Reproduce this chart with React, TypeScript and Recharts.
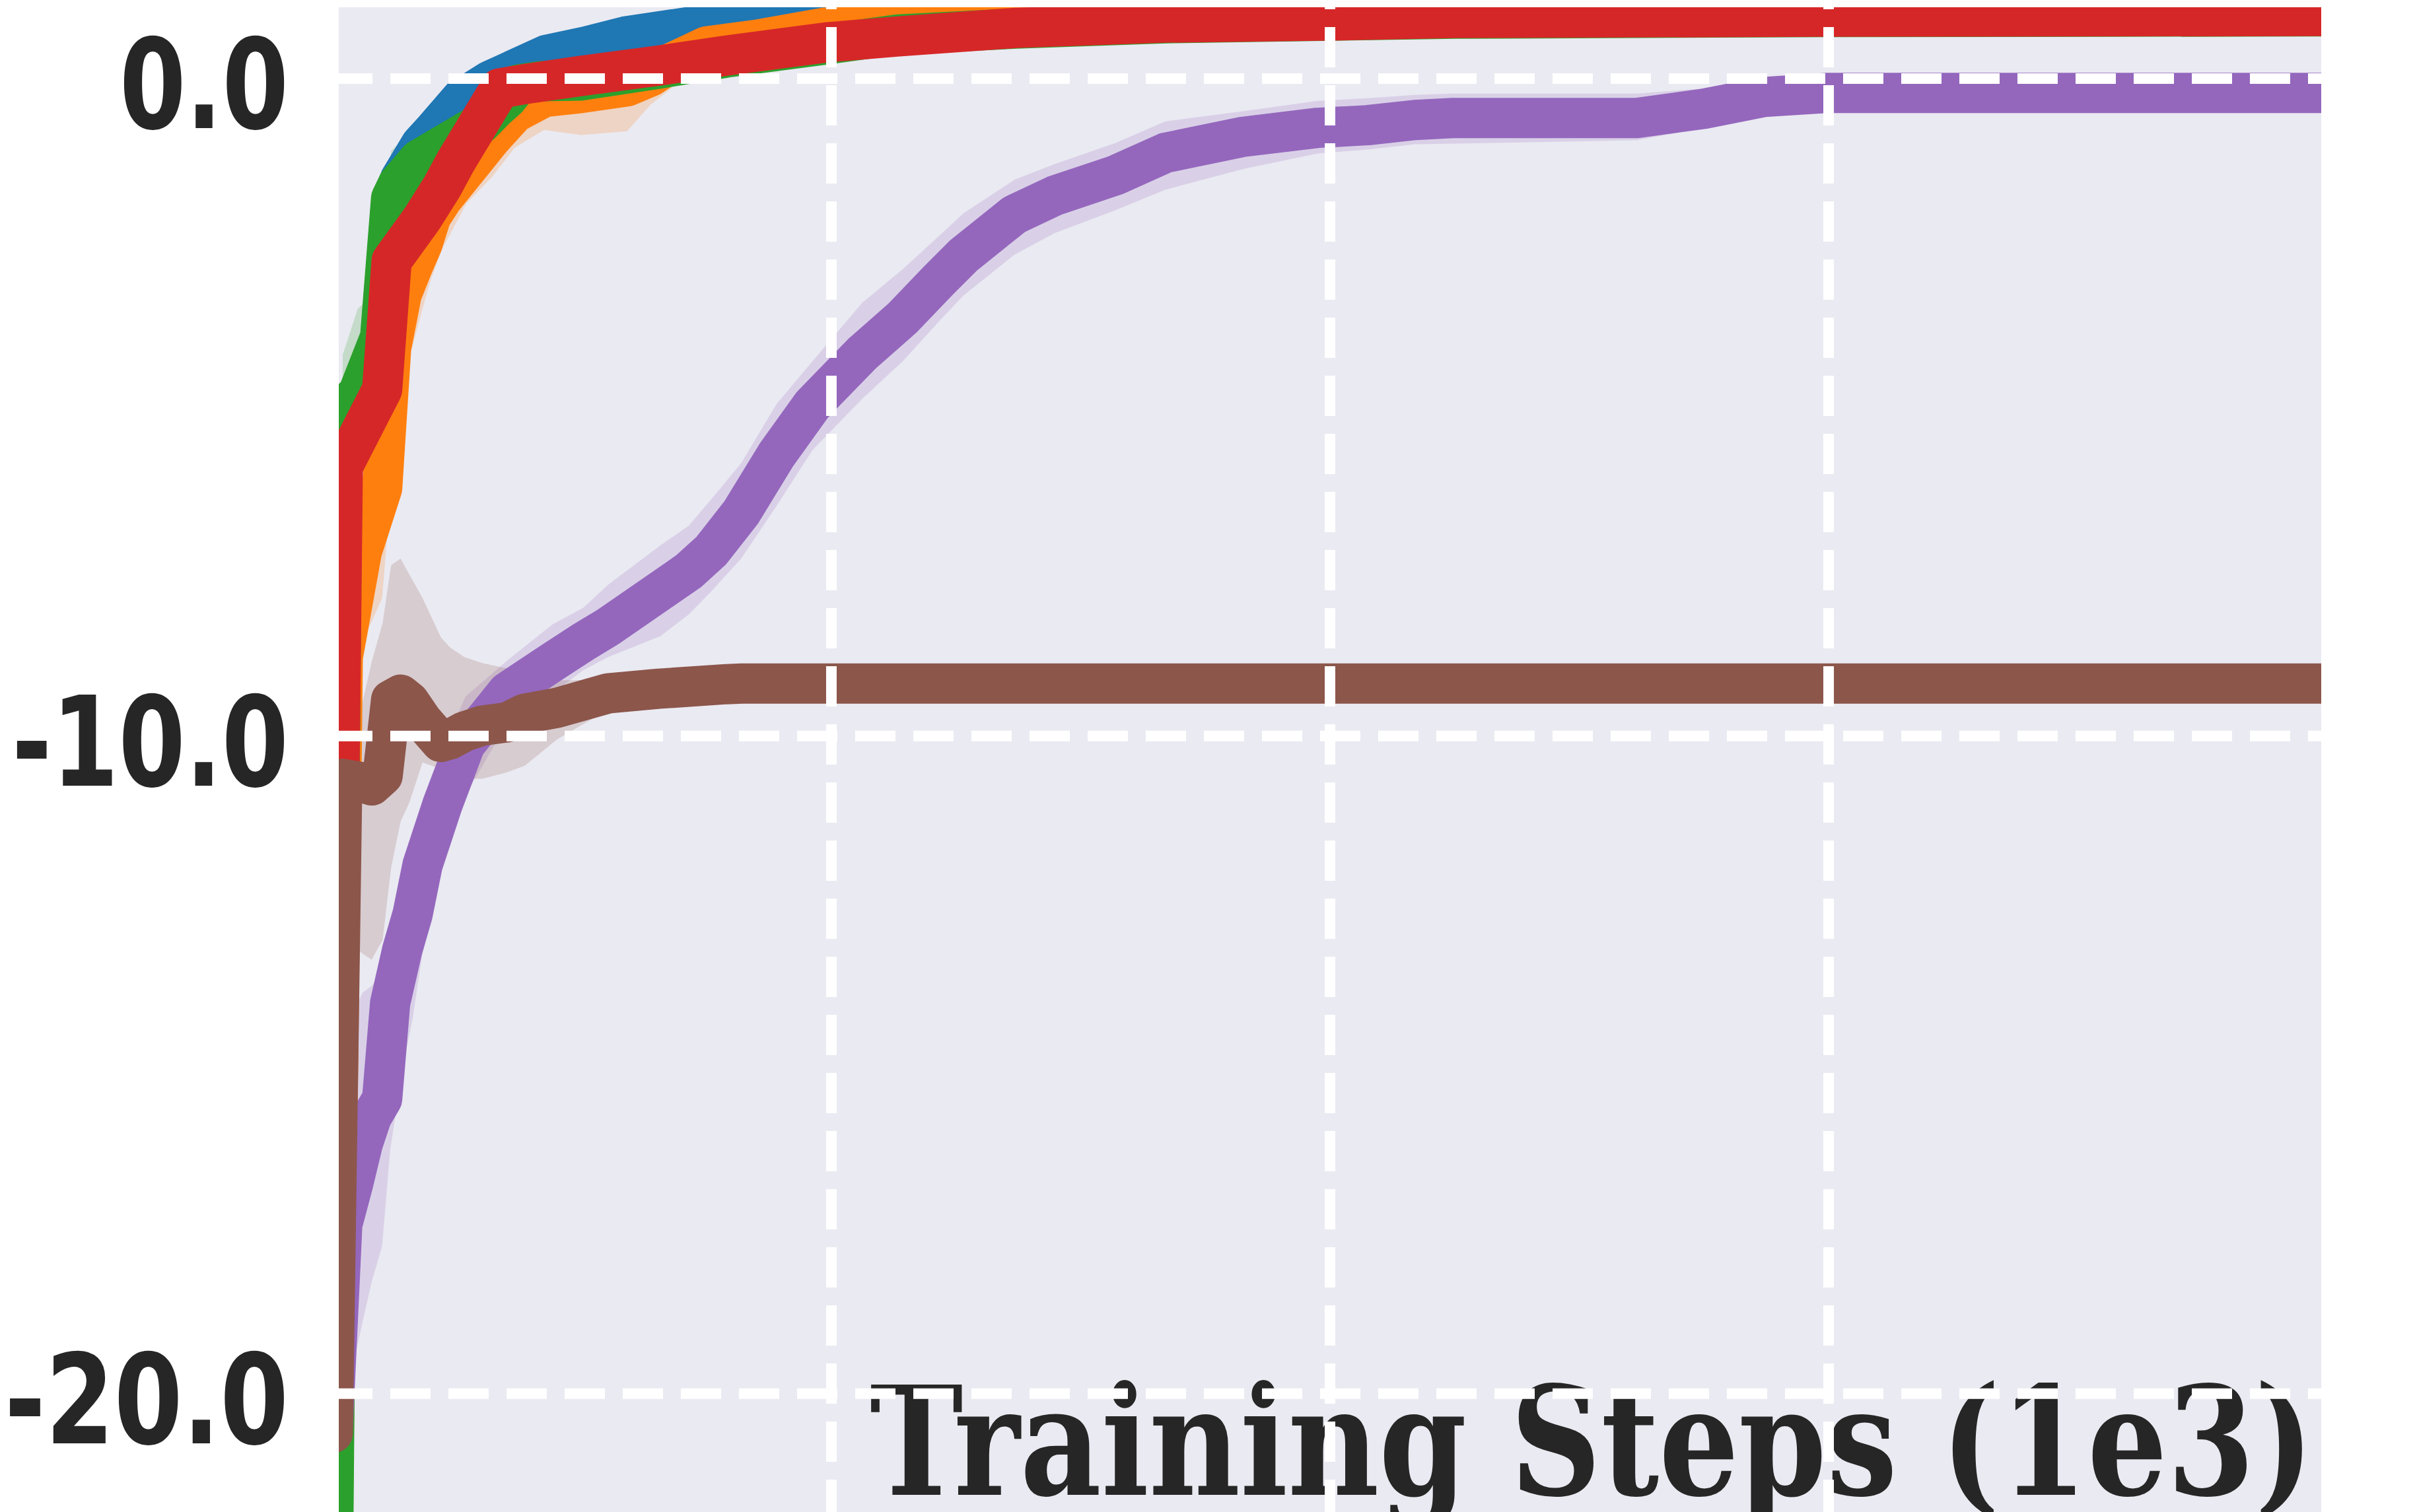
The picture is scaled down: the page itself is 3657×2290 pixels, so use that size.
import React from 'react';
import { ComposedChart, Line, Area, XAxis, YAxis, CartesianGrid, ReferenceLine, Customized } from 'recharts';

// x in 1e3 training steps, y = reward
const stepTicks = [1, 2, 3];
const rewardTicks = [-20, -10, 0];
const rewardLabels: Record<string, string> = { '0': '0.0', '-10': '-10.0', '-20': '-20.0' };
const labelWidths: Record<string, number> = { '0': 256, '-10': 419, '-20': 430 };

const blueSteps = [0, 0.02, 0.05, 0.095, 0.117, 0.135, 0.177, 0.2, 0.257, 0.316, 0.429, 0.51, 0.587, 0.72, 0.85, 1.0, 1.3, 2.0, 3.988];
const blueReward = [-21, -5.6, -5.0, -4.0, -1.9, -1.53, -1.0, -0.81, -0.31, -0.03, 0.36, 0.49, 0.64, 0.79, 0.95, 1.05, 1.15, 1.2, 1.25];

const orangeSteps = [0, 0.02, 0.058, 0.099, 0.117, 0.138, 0.159, 0.18, 0.197, 0.219, 0.268, 0.319, 0.365, 0.424, 0.498, 0.59, 0.637, 0.674, 0.75, 0.85, 0.984, 1.13, 1.4, 2.0, 3.988];
const orangeReward = [-22, -8.8, -7.2, -6.23, -4.1, -3.28, -2.88, -2.51, -2.1, -1.84, -1.38, -0.9, -0.52, -0.28, -0.22, -0.12, 0.03, 0.22, 0.49, 0.59, 0.77, 0.86, 0.95, 1.0, 1.02];
const orangeLow = [-23, -10.0, -8.6, -7.9, -6.2, -4.5, -4.1, -3.5, -3.05, -2.6, -1.9, -1.5, -1.05, -0.78, -0.86, -0.8, -0.4, -0.18, 0.3, 0.5, 0.72, 0.83, 0.93, 0.99, 1.01];
const orangeHigh = [-21, -8.0, -6.6, -5.6, -3.6, -2.9, -2.6, -2.2, -1.85, -1.6, -1.15, -0.7, -0.35, -0.15, -0.1, 0.0, 0.2, 0.4, 0.6, 0.68, 0.82, 0.89, 0.97, 1.01, 1.03];

const greenSteps = [0, 0.02, 0.05, 0.095, 0.117, 0.131, 0.173, 0.218, 0.278, 0.297, 0.325, 0.35, 0.372, 0.416, 0.498, 0.653, 0.79, 0.99, 1.134, 1.37, 1.67, 2.25, 3.0, 3.988];
const greenReward = [-23, -5.0, -4.8, -3.93, -1.82, -1.6, -1.23, -1.03, -0.76, -0.69, -0.47, -0.3, -0.09, -0.04, -0.03, 0.15, 0.32, 0.52, 0.67, 0.76, 0.84, 0.91, 0.935, 0.945];
const greenLow = [-23.5, -5.4, -5.2, -4.3, -2.2, -1.9, -1.45, -1.2, -0.9, -0.83, -0.6, -0.42, -0.2, -0.12, -0.09, 0.1, 0.28, 0.49, 0.65, 0.74, 0.83, 0.9, 0.93, 0.94];
const greenHigh = [-21, -4.2, -3.5, -3.2, -1.1, -1.0, -0.95, -0.85, -0.62, -0.55, -0.36, -0.2, 0.0, 0.03, 0.03, 0.2, 0.36, 0.55, 0.69, 0.78, 0.85, 0.92, 0.94, 0.95];

const redSteps = [0, 0.02, 0.099, 0.118, 0.18, 0.219, 0.246, 0.335, 0.38, 0.498, 0.657, 0.79, 0.99, 1.134, 1.37, 1.67, 1.98, 2.25, 2.99, 3.988];
const redReward = [-20, -5.9, -4.73, -2.77, -2.12, -1.65, -1.27, -0.15, -0.09, 0.04, 0.2, 0.35, 0.55, 0.64, 0.77, 0.85, 0.88, 0.92, 0.94, 0.95];

const purpleSteps = [0, 0.019, 0.04, 0.06, 0.078, 0.099, 0.115, 0.139, 0.16, 0.18, 0.22, 0.266, 0.35, 0.441, 0.502, 0.552, 0.657, 0.714, 0.759, 0.819, 0.89, 0.962, 1.062, 1.143, 1.215, 1.265, 1.367, 1.448, 1.57, 1.67, 1.823, 1.975, 2.075, 2.17, 2.246, 2.615, 2.75, 2.87, 2.995, 3.988];
const purpleReward = [-20.5, -17.43, -16.83, -16.2, -15.79, -15.52, -14.06, -13.26, -12.71, -11.96, -11.04, -10.12, -9.33, -8.87, -8.57, -8.34, -7.79, -7.49, -7.18, -6.6, -5.72, -4.96, -4.18, -3.64, -3.07, -2.69, -2.07, -1.78, -1.47, -1.13, -0.89, -0.75, -0.71, -0.63, -0.6, -0.6, -0.46, -0.28, -0.22, -0.22];
const purpleLow = [-21.8, -20.5, -19.6, -18.9, -18.3, -17.75, -16.3, -15.1, -14.3, -13.3, -12.0, -10.9, -9.8, -9.35, -9.0, -8.8, -8.48, -8.15, -7.8, -7.3, -6.5, -5.65, -4.87, -4.3, -3.7, -3.3, -2.68, -2.35, -2.0, -1.69, -1.38, -1.14, -1.08, -1.0, -0.99, -0.94, -0.75, -0.45, -0.24, -0.24];
const purpleHigh = [-19.5, -15.5, -14.2, -13.9, -13.8, -13.6, -12.8, -12.2, -11.6, -11.0, -10.2, -9.4, -8.85, -8.3, -8.05, -7.7, -7.1, -6.8, -6.4, -5.85, -4.95, -4.3, -3.41, -2.9, -2.4, -2.05, -1.54, -1.3, -0.98, -0.65, -0.5, -0.34, -0.3, -0.25, -0.23, -0.23, -0.15, -0.1, -0.2, -0.2];

const brownSteps = [0, 0.019, 0.058, 0.078, 0.1, 0.117, 0.136, 0.154, 0.18, 0.217, 0.235, 0.264, 0.3, 0.35, 0.385, 0.45, 0.552, 0.653, 0.79, 0.82, 3.988];
const brownReward = [-20.6, -10.65, -10.7, -10.75, -10.6, -9.45, -9.37, -9.48, -9.77, -10.09, -10.05, -9.93, -9.84, -9.79, -9.66, -9.57, -9.35, -9.28, -9.21, -9.2, -9.2];
const brownLow = [-22, -13.0, -13.3, -13.4, -13.1, -12.0, -11.3, -11.0, -10.4, -10.5, -10.6, -10.65, -10.65, -10.55, -10.45, -10.05, -9.6, -9.35, -9.23, -9.21, -9.21];
const brownHigh = [-19.5, -9.9, -9.54, -8.87, -8.28, -7.4, -7.3, -7.55, -7.9, -8.5, -8.65, -8.8, -8.89, -8.97, -9.0, -9.15, -9.15, -9.2, -9.19, -9.19, -9.19];

const toLine = (steps: number[], vals: number[]) => steps.map((x, i) => ({ x, v: vals[i] }));
const toBand = (steps: number[], lo: number[], hi: number[]) => steps.map((x, i) => ({ x, band: [lo[i], hi[i]] }));

const TEXT = '#262626';
const LINE_W = 61;

const RewardTick = (props: any) => {
  const { x, y, payload } = props;
  const k = String(payload.value);
  return (
    <text
      x={x}
      y={y + 75}
      textAnchor="end"
      fill={TEXT}
      fontFamily="DejaVu Sans"
      fontWeight="bold"
      fontSize={189}
      textLength={labelWidths[k]}
      lengthAdjust="spacingAndGlyphs"
    >
      {rewardLabels[k]}
    </text>
  );
};

// axis title sits inside the plot, near its bottom edge (cut off like the source)
const StepsLabel = () => (
  <text
    x={1317}
    y={2264}
    textAnchor="start"
    fill={TEXT}
    fontFamily="DejaVu Serif"
    fontWeight="bold"
    fontSize={228}
    textLength={2187}
    lengthAdjust="spacingAndGlyphs"
  >
    Training Steps (1e3)
  </text>
);

const lineProps = {
  type: 'linear' as const,
  dataKey: 'v',
  strokeWidth: LINE_W,
  dot: false,
  activeDot: false,
  isAnimationActive: false,
  strokeLinejoin: 'round' as const,
  strokeLinecap: 'round' as const,
};

const bandProps = {
  type: 'linear' as const,
  dataKey: 'band',
  stroke: 'none',
  fillOpacity: 0.2,
  dot: false,
  activeDot: false,
  isAnimationActive: false,
};

const gridProps = {
  stroke: '#ffffff',
  strokeWidth: 16,
  strokeDasharray: '61 27',
  ifOverflow: 'hidden' as const,
  zIndex: 2000,
} as any;

export default function App() {
  return (
    <div style={{ position: 'absolute', left: 0, top: 0, width: 3657, height: 2290, background: '#fff' }}>
      <ComposedChart width={3657} height={2290} margin={{ top: 11, right: 142, bottom: 0, left: 0 }}>
        <CartesianGrid horizontal={false} vertical={false} fill="#EAEAF2" fillOpacity={1} />
        <XAxis
          dataKey="x"
          type="number"
          domain={[0.012, 3.988]}
          ticks={stepTicks}
          allowDataOverflow
          tick={false}
          tickLine={false}
          axisLine={false}
          height={0}
        />
        <YAxis
          type="number"
          domain={[-21.8, 1.084]}
          ticks={rewardTicks}
          allowDataOverflow
          width={513}
          tickLine={false}
          axisLine={false}
          tickSize={0}
          tickMargin={76}
          interval={0}
          tick={<RewardTick />}
        />
        <Area {...bandProps} data={toBand(orangeSteps, orangeLow, orangeHigh)} fill="#ff7f0e" />
        <Area {...bandProps} data={toBand(greenSteps, greenLow, greenHigh)} fill="#2ca02c" />
        <Area {...bandProps} data={toBand(purpleSteps, purpleLow, purpleHigh)} fill="#9467bd" />
        <Area {...bandProps} data={toBand(brownSteps, brownLow, brownHigh)} fill="#8c564b" />
        <Line {...lineProps} data={toLine(blueSteps, blueReward)} stroke="#1f77b4" />
        <Line {...lineProps} data={toLine(orangeSteps, orangeReward)} stroke="#ff7f0e" />
        <Line {...lineProps} data={toLine(greenSteps, greenReward)} stroke="#2ca02c" />
        <Line {...lineProps} data={toLine(redSteps, redReward)} stroke="#d62728" />
        <Line {...lineProps} data={toLine(purpleSteps, purpleReward)} stroke="#9467bd" />
        <Line {...lineProps} data={toLine(brownSteps, brownReward)} stroke="#8c564b" />
        <Customized component={StepsLabel} />
        {rewardTicks.map((t) => (
          <ReferenceLine key={`h${t}`} y={t} {...gridProps} strokeDashoffset={10} />
        ))}
        {stepTicks.map((t) => (
          <ReferenceLine key={`v${t}`} x={t} {...gridProps} strokeDashoffset={12} />
        ))}
      </ComposedChart>
    </div>
  );
}
